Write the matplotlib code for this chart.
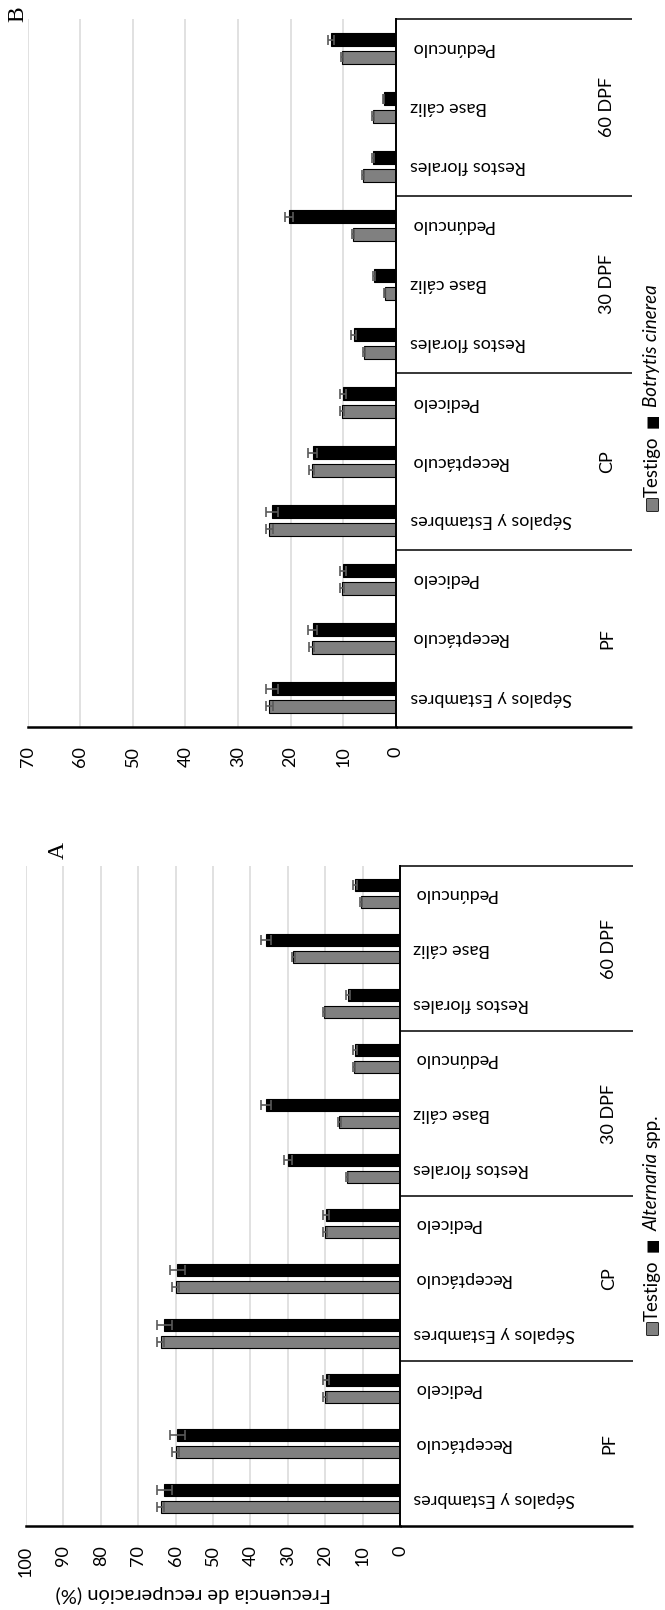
import matplotlib
matplotlib.use('Agg')
import matplotlib.pyplot as plt
import matplotlib.patheffects as pe
from matplotlib.transforms import blended_transform_factory
import numpy as np

plt.rcParams['font.family'] = ['Lato', 'DejaVu Sans']

W, H = 665, 1610

# ---------------- data ----------------
categories = ["Sépalos y Estambres", "Receptáculo", "Pedicelo",
              "Sépalos y Estambres", "Receptáculo", "Pedicelo",
              "Restos florales", "Base cáliz", "Pedúnculo",
              "Restos florales", "Base cáliz", "Pedúnculo"]
groups = ["PF", "CP", "30 DPF", "60 DPF"]

# Panel A: Alternaria spp.
a_testigo = [64.0, 60.0, 20.0, 64.0, 60.0, 20.0, 14.2, 16.2, 12.2, 20.3, 28.5, 10.4]
a_testigo_err = [1.0, 1.0, 0.5, 1.0, 1.0, 0.5, 0.3, 0.4, 0.3, 0.3, 0.4, 0.2]
a_hongo = [63.0, 59.5, 19.8, 63.0, 59.5, 19.8, 30.0, 35.8, 12.0, 14.0, 35.8, 12.0]
a_hongo_err = [2.0, 2.0, 0.8, 2.0, 2.0, 0.8, 1.0, 1.3, 0.5, 0.5, 1.3, 0.5]

# Panel B: Botrytis cinerea
b_testigo = [24.0, 16.0, 10.2, 24.0, 16.0, 10.2, 6.0, 2.1, 8.2, 6.2, 4.3, 10.2]
b_testigo_err = [0.6, 0.4, 0.3, 0.6, 0.4, 0.3, 0.2, 0.1, 0.2, 0.2, 0.2, 0.2]
b_hongo = [23.5, 15.8, 10.0, 23.5, 15.8, 10.0, 8.0, 4.2, 20.3, 4.3, 2.3, 12.3]
b_hongo_err = [1.2, 0.8, 0.6, 1.2, 0.8, 0.6, 0.5, 0.2, 0.8, 0.2, 0.1, 0.5]

a_ticks = list(range(0, 101, 10))
b_ticks = list(range(0, 71, 10))

FS = 13

fig = plt.figure(figsize=(W / 100, H / 100), dpi=100)


def fx(px):
    return px / W


def fy(py):
    return 1 - py / H


def draw_panel(rect_px, testigo, terr, hongo, herr, ticks, lab_x, grp_x, sep_x1):
    x0, y0, x1, y1 = rect_px
    ax = fig.add_axes([fx(x0), fy(y1), (x1 - x0) / W, (y1 - y0) / H])
    y = np.arange(len(categories))
    ax.barh(y - 0.15, testigo, height=0.21, color='#808080', edgecolor='black',
            linewidth=0.8, zorder=2)
    ax.barh(y + 0.15, hongo, height=0.21, color='black', edgecolor='black',
            linewidth=0.8, zorder=2)
    ax.errorbar(testigo, y - 0.15, xerr=terr, fmt='none', ecolor='#5a5a5a',
                elinewidth=1.2, capsize=3.8, capthick=1.2, zorder=3)
    ax.errorbar(hongo, y + 0.15, xerr=herr, fmt='none', ecolor='#5a5a5a',
                elinewidth=1.2, capsize=3.8, capthick=1.2, zorder=3)
    ax.set_xlim(max(ticks), 0)
    ax.set_ylim(-0.5, len(categories) - 0.5)
    ax.set_xticks(ticks)
    ax.set_xticklabels([str(t) for t in ticks], rotation=90, fontsize=FS)
    ax.tick_params(axis='x', length=0, pad=14)
    ax.set_yticks([])
    ax.grid(axis='x', color='#d9d9d9', linewidth=1.1)
    ax.set_axisbelow(True)
    for s in ['left', 'top']:
        ax.spines[s].set_visible(False)
    ax.spines['right'].set_linewidth(1.4)
    ax.spines['bottom'].set_linewidth(1.8)
    tr = blended_transform_factory(fig.transFigure, ax.transData)
    for i, c in enumerate(categories):
        ax.text(fx(lab_x), i, c, transform=tr, rotation=180, ha='left',
                va='center', fontsize=FS, clip_on=False)
    for g, name in enumerate(groups):
        ax.text(fx(grp_x), g * 3 + 1, name, transform=tr, rotation=90,
                ha='center', va='center', fontsize=FS, clip_on=False)
    for k, b in enumerate(np.arange(-0.5, len(categories), 3)):
        lw = 1.8 if k == 0 else 1.1
        ax.plot([fx(x1), fx(sep_x1)], [b, b], transform=tr, color='black',
                linewidth=lw, clip_on=False, solid_capstyle='butt')
    return ax


axB = draw_panel((27.6, 19, 395.7, 727), b_testigo, b_testigo_err, b_hongo,
                 b_hongo_err, b_ticks, 410, 607, 632)
axA = draw_panel((26, 866, 400, 1526), a_testigo, a_testigo_err, a_hongo,
                 a_hongo_err, a_ticks, 413, 609, 633)

fig.text(fx(193), fy(1594), "Frecuencia de recuperación (%)", rotation=180,
         ha='center', va='center', fontsize=14.5)

fig.text(fx(58), fy(850), "A", rotation=90, ha='center', va='center',
         fontsize=17, family='Liberation Serif')
fig.text(fx(18), fy(14), "B", rotation=90, ha='center', va='center',
         fontsize=17, family='Liberation Serif')


def legend_chain(ax, x_px, ybot_px, items):
    prev = None
    for txt, gap, kw in items:
        if prev is None:
            prev = fig.text(fx(x_px), fy(ybot_px), txt, rotation=90, ha='center',
                            va='bottom', **kw)
        else:
            prev = ax.annotate(txt, xy=(0.5, 1.0), xycoords=prev,
                               xytext=(0, gap), textcoords='offset points',
                               rotation=90, ha='center', va='bottom',
                               annotation_clip=False, **kw)


sq_gray = dict(fontsize=11, color='#808080', family='DejaVu Sans',
               path_effects=[pe.withStroke(linewidth=1.2, foreground='black')])
sq_black = dict(fontsize=11, color='black', family='DejaVu Sans')
txt_kw = dict(fontsize=13.5)
it_kw = dict(fontsize=13.5, style='italic')

legend_chain(axA, 652, 1336, [
    ("■", 0, sq_gray),
    ("Testigo", 0.5, txt_kw),
    ("■", 6, sq_black),
    ("Alternaria", 5, it_kw),
    ("spp.", 3, txt_kw),
])
legend_chain(axB, 652, 512, [
    ("■", 0, sq_gray),
    ("Testigo", 0.5, txt_kw),
    ("■", 6, sq_black),
    ("Botrytis cinerea", 5, it_kw),
])

fig.savefig("out.png", dpi=100)
